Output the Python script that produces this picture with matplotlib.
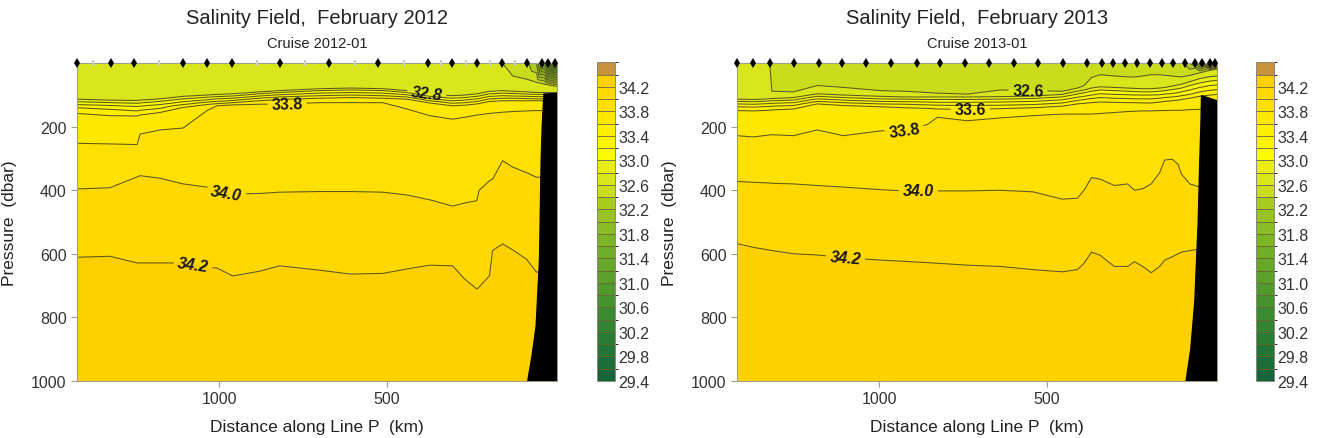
import numpy as np
import matplotlib
matplotlib.use("Agg")
import matplotlib.pyplot as plt
import matplotlib.tri as mtri
from matplotlib.colors import ListedColormap, BoundaryNorm

plt.rcParams['font.family'] = ['Liberation Sans', 'DejaVu Sans']

N = np.nan

# colour scale of the section (salinity bands)
levels = np.round(np.arange(29.4, 34.61, 0.2), 1)
cbar_ticks = np.round(np.arange(29.4, 34.21, 0.4), 1)

# isohalines read off each cast, depth in dbar (nan = not present)
iso_levels = [32.6, 32.8, 33.0, 33.2, 33.4, 33.6, 33.8, 34.0, 34.2]
deep_salinity = 34.3

# ---- February 2012 (cruise 2012-01) ----
km_2012 = [1424, 1326, 1245, 1236, 1177, 1108, 1037, 1007, 960, 880, 820, 700, 610,
           513, 441, 373, 305, 269, 233, 226, 195, 186, 156, 126, 84, 55, 30, 0, -6]
surface_2012 = [32.7, 32.7, 32.7, 32.7, 32.7, 32.7, 32.7, 32.7, 32.7, 32.7, 32.7, 32.7, 32.7,
                32.7, 32.7, 32.7, 32.7, 32.7, 32.7, 32.7, 32.7, 32.7, 32.6, 32.5, 32.45, 32.2, 31.2, 29.9, 29.9]
depth_2012 = [
    [N, 113, 121, 130, 140, 158, 252, 396, 611],
    [N, 116, 124, 133, 145, 165, 254, 392, 608],
    [N, 117, 126, 136, 150, 166, 256, 358, 629],
    [N, 116, 125, 135, 148, 163, 223, 354, 629],
    [N, 112, 120, 130, 142, 155, 210, 362, 629],
    [N, 104, 112, 121, 130, 139, 204, 380, 629],
    [N, 100, 107, 115, 122, 130, 149, 390, 642],
    [N, 98, 105, 112, 120, 127, 134, 402, 645],
    [N, 96, 103, 110, 117, 124, 131, 412, 670],
    [N, 90, 96, 103, 110, 118, 129, 410, 655],
    [N, 86, 92, 99, 106, 114, 128, 406, 638],
    [N, 80, 86, 94, 102, 110, 124, 404, 652],
    [N, 78, 84, 92, 100, 108, 124, 404, 664],
    [N, 80, 86, 94, 102, 110, 124, 406, 662],
    [N, 86, 92, 99, 106, 113, 144, 415, 648],
    [N, 97, 104, 111, 118, 125, 165, 430, 636],
    [N, 102, 110, 118, 126, 134, 176, 450, 638],
    [N, 100, 108, 116, 124, 132, 170, 440, 680],
    [N, 96, 104, 112, 120, 128, 163, 433, 711],
    [N, 95, 103, 111, 119, 127, 162, 400, 705],
    [N, 88, 96, 104, 112, 120, 158, 370, 669],
    [N, 88, 96, 104, 112, 120, 157, 365, 590],
    [N, 86, 94, 102, 110, 118, 154, 307, 569],
    [40, 88, 95, 103, 110, 118, 152, 327, 588],
    [50, 90, 97, 104, 111, 118, 150, 345, 618],
    [60, 92, 98, 105, 112, 118, 149, 359, 658],
    [66, 92, 98, 105, 112, 118, 149, 359, 658],
    [72, 92, 98, 105, 112, 118, 149, 359, 658],
    [72, 92, 98, 105, 112, 118, 149, 359, 658],
]
bathy_km_2012 = [-6, 33, 38, 41, 46, 56, 68, 81]
bathy_p_2012 = [95, 97, 200, 302, 616, 827, 920, 1000]
stations_2012 = [1424, 1324, 1254, 1109, 1036, 962, 818, 673, 526, 377, 306, 231, 158, 84, 40, 20, 0]
skipped_2012 = [1375, 1181, 889, 744, 597, 451, 340, 266, 195, 120]
# contour labels: (salinity, km, dbar)
labels_2012 = [(33.8, 798, 128), (32.8, 382, 94), (34.0, 978, 403), (34.2, 1078, 636)]

# ---- February 2013 (cruise 2013-01) ----
km_2013 = [1424, 1375, 1330, 1320, 1256, 1185, 1107, 997, 926, 857, 827, 738, 640, 542,
           455, 410, 390, 368, 342, 300, 260, 240, 215, 190, 165, 150, 128, 110, 100, 75,
           45, 15, -6]
surface_2013 = [32.7, 32.7, 32.65, 32.5, 32.5, 32.5, 32.5, 32.5, 32.5, 32.5, 32.5, 32.5, 32.5, 32.5,
                32.5, 32.5, 32.5, 32.5, 32.5, 32.5, 32.5, 32.5, 32.5, 32.5, 32.5, 32.5, 32.5, 32.5,
                32.45, 32.2, 31.6, 30.6, 30.0]
depth_2013 = [
    [N, 113, 120, 128, 137, 149, 228, 372, 568],
    [N, 114, 121, 129, 138, 150, 232, 375, 580],
    [N, 112, 119, 127, 136, 148, 226, 377, 588],
    [88, 111, 118, 126, 135, 147, 225, 378, 590],
    [90, 108, 116, 124, 133, 144, 228, 380, 600],
    [70, 96, 104, 112, 120, 128, 210, 385, 604],
    [76, 100, 108, 116, 124, 133, 228, 390, 612],
    [86, 104, 112, 120, 128, 137, 213, 398, 620],
    [88, 106, 113, 121, 129, 140, 210, 402, 624],
    [92, 106, 114, 122, 131, 142, 193, 402, 628],
    [94, 106, 114, 123, 132, 144, 170, 402, 630],
    [97, 106, 114, 123, 133, 145, 181, 402, 636],
    [84, 105, 113, 122, 132, 143, 172, 400, 640],
    [86, 103, 111, 120, 130, 140, 165, 405, 650],
    [88, 98, 106, 115, 125, 135, 160, 428, 657],
    [78, 88, 97, 107, 117, 128, 160, 425, 650],
    [70, 84, 93, 104, 114, 126, 160, 400, 630],
    [45, 78, 88, 100, 111, 124, 160, 360, 595],
    [36, 74, 84, 96, 108, 122, 158, 365, 605],
    [40, 76, 86, 98, 110, 123, 155, 385, 640],
    [43, 78, 88, 99, 111, 124, 152, 380, 640],
    [43, 79, 89, 100, 112, 124, 151, 400, 625],
    [40, 80, 90, 100, 112, 125, 150, 395, 640],
    [36, 80, 90, 100, 112, 125, 150, 380, 660],
    [36, 78, 88, 99, 110, 122, 149, 345, 640],
    [38, 76, 86, 97, 108, 120, 149, 305, 620],
    [40, 72, 83, 95, 106, 118, 148, 302, 610],
    [42, 68, 80, 92, 104, 116, 148, 318, 600],
    [43, 66, 78, 90, 102, 114, 148, 349, 595],
    [38, 58, 70, 84, 98, 110, 146, 380, 590],
    [30, 48, 62, 76, 90, 104, 145, 390, 585],
    [22, 42, 56, 70, 85, 100, 145, 390, 585],
    [18, 40, 54, 68, 83, 98, 145, 390, 585],
]
bathy_km_2013 = [-6, 40, 42, 45, 50, 60, 72, 86]
bathy_p_2013 = [118, 102, 200, 300, 500, 750, 900, 1000]
stations_2013 = [1424, 1376, 1326, 1253, 1181, 1110, 1039, 965, 888, 820, 745, 673, 600, 527,
                 453, 382, 337, 304, 268, 233, 193, 159, 124, 89, 59, 39, 15, 0]
skipped_2013 = []
labels_2013 = [(32.6, 557, 83), (33.6, 729, 149), (33.8, 926, 210), (34.0, 884, 400),
               (34.2, 1101, 612)]

band_colors = ['#14663a', '#1b6e38', '#227537', '#2a7c35', '#338333', '#3c8a31', '#46922f',
               '#50992d', '#5aa02b', '#65a729', '#70ae27', '#7db525', '#8abc23', '#98c321',
               '#aacb1f', '#cadd1c', '#d8e61b', '#e8ee14', '#fafa05', '#fff500', '#ffee00',
               '#ffe800', '#ffe000', '#ffd800', '#ffd000', '#c8913c']
cmap = ListedColormap(band_colors)
norm = BoundaryNorm(levels, cmap.N)
line_color = '#5a581f'
frame_color = '#a09e88'
text_color = '#333333'


def draw_panel(ax, cax, km, surface, depth, bathy_km, bathy_p, stations, skipped, labels):
    x, y, z = [], [], []
    for j in range(len(km)):
        x.append(km[j]); y.append(0); z.append(surface[j])
        for lev, d in zip(iso_levels, depth[j]):
            if not np.isnan(d):
                x.append(km[j]); y.append(d); z.append(lev)
        x.append(km[j]); y.append(1000); z.append(deep_salinity)
    x = np.array(x, float)
    y = np.array(y, float)
    z = np.array(z, float)

    # stretch distance for the triangulation so only neighbouring casts get joined
    tris = mtri.Triangulation(x * 60, y).triangles
    tri = mtri.Triangulation(x, y, tris)

    cf = ax.tricontourf(tri, z, levels=levels, cmap=cmap, norm=norm)

    lab_levels = sorted(set(l[0] for l in labels))
    plain = [l for l in levels if not any(np.isclose(l, lab_levels))]
    ax.tricontour(tri, z, levels=plain, colors=line_color, linewidths=0.75)
    cs = ax.tricontour(tri, z, levels=lab_levels, colors=line_color, linewidths=0.75)
    texts = cs.clabel(manual=[(l[1], l[2]) for l in labels], fmt='%.1f',
                      fontsize=11.5, inline=True, inline_spacing=4, colors='#1a1a1a')
    for t in texts:
        t.set_fontweight('bold')
        if t.get_text().startswith('34') or t.get_text() == '32.8':
            t.set_fontstyle('italic')

    ax.fill(list(bathy_km) + [-6], list(bathy_p) + [1000], color='black', zorder=3)

    ax.plot(skipped, np.zeros(len(skipped)), '|', color='#cccccc', ms=5, mew=1.5,
            clip_on=False, zorder=5)
    ax.plot(stations, np.zeros(len(stations)), 'd', color='black', ms=5, mew=0,
            clip_on=False, zorder=6)

    ax.set_xlim(1424, -6)
    ax.set_ylim(1000, 0)
    ax.set_xticks([1000, 500])
    ax.set_yticks([200, 400, 600, 800, 1000])
    ax.tick_params(colors=frame_color, labelcolor=text_color, labelsize=11.5, length=4)
    for s in ax.spines.values():
        s.set_color(frame_color)
        s.set_linewidth(0.8)
    ax.set_xlabel('Distance along Line P  (km)', fontsize=12.5, color='#222222', labelpad=9)
    ax.set_ylabel('Pressure  (dbar)', fontsize=12.5, color='#222222')
    ax.yaxis.set_label_coords(-0.124, 0.5)

    cb = plt.colorbar(cf, cax=cax, ticks=cbar_ticks, drawedges=True)
    cb.ax.set_yticklabels(['%.1f' % v for v in cbar_ticks])
    cb.ax.tick_params(length=0, pad=3, labelsize=11.5, labelcolor=text_color)
    cb.outline.set_edgecolor('#8a8a7a')
    cb.outline.set_linewidth(0.7)
    cb.dividers.set_color('#6a6530')
    cb.dividers.set_linewidth(0.6)


fig = plt.figure(figsize=(13.17, 4.39), dpi=100)
W, H = 1317.0, 439.0

panels = [
    (77, 596.5, km_2012, surface_2012, depth_2012, bathy_km_2012, bathy_p_2012,
     stations_2012, skipped_2012, labels_2012, 'February 2012', 'Cruise 2012-01'),
    (737, 1255.5, km_2013, surface_2013, depth_2013, bathy_km_2013, bathy_p_2013,
     stations_2013, skipped_2013, labels_2013, 'February 2013', 'Cruise 2013-01'),
]
for left, cleft, km, surf, dep, bk, bp, st, sk, lab, month, cruise in panels:
    ax = fig.add_axes([left / W, (H - 381.7) / H, 480 / W, 317.4 / H])
    cax = fig.add_axes([cleft / W, (H - 382) / H, 18 / W, 318.7 / H])
    draw_panel(ax, cax, km, surf, dep, bk, bp, st, sk, lab)
    cx = (left + 240) / W
    fig.text(cx, 1 - 18 / H, 'Salinity Field,  ' + month, ha='center', va='center',
             fontsize=14.5, color='#222222')
    fig.text(cx, 1 - 44 / H, cruise, ha='center', va='center', fontsize=10.5, color='#222222')

fig.savefig('out.png', dpi=100)
